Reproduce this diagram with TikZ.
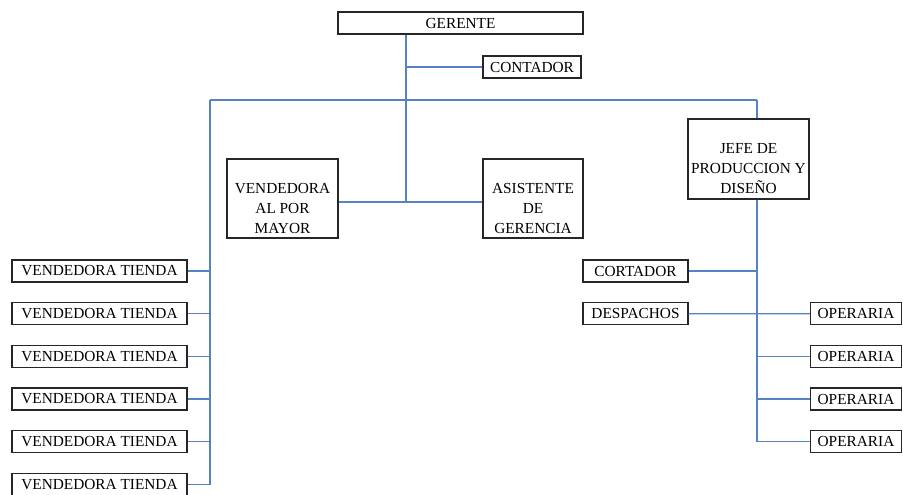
\documentclass[tikz,border=0pt]{standalone}
\usepackage{fontspec}
\setmainfont{Liberation Serif}
\usetikzlibrary{positioning}

\definecolor{linkblue}{RGB}{84,130,194}

\begin{document}
\begin{tikzpicture}[x=0.75pt,y=-0.75pt,node distance=32pt,
    box/.style={rectangle,draw=black!85,line width=0.9pt,inner sep=0pt,align=center,font=\fontsize{11.5}{15}\selectfont},
    smallbox/.style={box,minimum height=16.5pt},
    bigbox/.style={box,minimum height=59.25pt,text height=55.5pt,text depth=3.75pt},
    link/.style={draw=linkblue,line width=0.9pt}]
    \useasboundingbox (0,0) rectangle (903,494);

    % top
    \node[smallbox,minimum width=183.75pt] (ger) at (460.5,23) {GERENTE};
    \node[smallbox,minimum width=73.5pt] (cont) at (532,67) {CONTADOR};

    % middle row
    \node[bigbox,minimum width=83.25pt] (mayor) at (282.5,198.5) {VENDEDORA\\AL POR\\MAYOR};
    \node[bigbox,minimum width=75pt] (asis) at (533,198.5) {ASISTENTE\\DE\\GERENCIA};
    \node[bigbox,minimum width=90.75pt,minimum height=60pt] (jefe) at (748.5,159) {JEFE DE\\PRODUCCION Y\\DISEÑO};

    % tiendas
    \node[smallbox,minimum width=131.25pt] (t1) at (99.5,271) {VENDEDORA TIENDA};
    \foreach \i [count=\j from 2] in {1,...,5}
        \node[smallbox,minimum width=131.25pt] (t\j) [below of = t\i] {VENDEDORA TIENDA};

    % produccion
    \node[smallbox,minimum width=78.75pt] (cort) at (635.5,271) {CORTADOR};
    \node[smallbox,minimum width=78.75pt] (desp) [below of = cort] {DESPACHOS};
    \node[smallbox,minimum width=68.25pt] (o1) at (856,313.7) {OPERARIA};
    \foreach \i [count=\j from 2] in {1,...,3}
        \node[smallbox,minimum width=68.25pt] (o\j) [below of = o\i] {OPERARIA};

    \coordinate (trunk) at (406,202);
    \coordinate (barL) at (210,100);
    \coordinate (barR) at (757,100);

    \path[link]
        (ger.south -| trunk) edge (trunk)
        (cont.west) edge (cont.west -| trunk)
        (mayor.east |- trunk) edge (asis.west |- trunk)
        (barL) edge (barR)
        (barR) edge (barR |- jefe.north)
        ;
    \draw[link] (barL) -- (barL |- t6.east) -- (t6.east);
    \foreach \i in {1,...,5}
        \draw[link] (t\i.east) -- (t\i.east -| barL);
    \draw[link] (barR |- jefe.south) -- (barR |- o4.west) -- (o4.west);
    \draw[link] (cort.east) -- (cort.east -| barR);
    \draw[link] (desp.east) -- (o1.west);
    \foreach \i in {2,3}
        \draw[link] (o\i.west) -- (o\i.west -| barR);
\end{tikzpicture}
\end{document}
